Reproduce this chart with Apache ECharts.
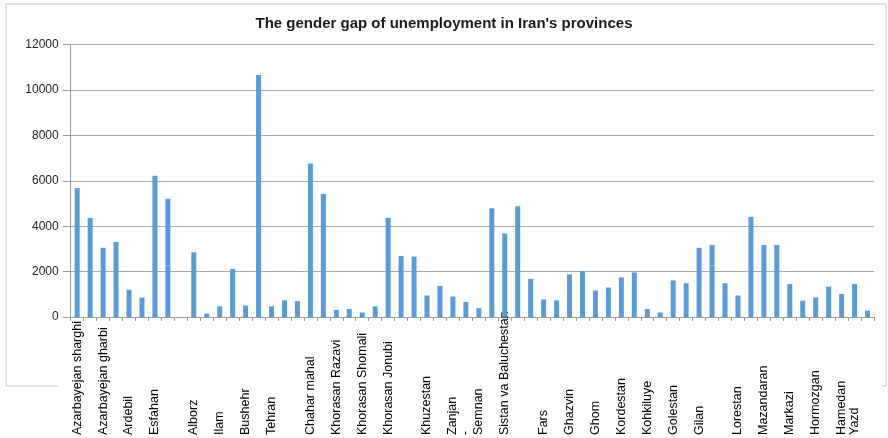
<!DOCTYPE html>
<html>
<head>
<meta charset="utf-8">
<title>The gender gap of unemployment in Iran's provinces</title>
<script src="https://cdn.jsdelivr.net/npm/echarts@6/dist/echarts.min.js"></script>
<style>
  html, body { margin: 0; padding: 0; background: #fff; }
  #chart { width: 888px; height: 438px; }
</style>
</head>
<body>
<div id="chart"></div>
<script>
// category labels (two bars per province, only some are named)
const labels = [
  'Azarbayejan sharghi', '', 'Azarbayejan gharbi', '', 'Ardebil', '', 'Esfahan', '', '', 'Alborz',
  '', 'Ilam', '', 'Bushehr', '', 'Tehran', '', '', 'Chahar mahal', '',
  'Khorasan Razavi', '', 'Khorasan Shomali', '', 'Khorasan Jonubi', '', '', 'Khuzestan', '', 'Zanjan',
  '-', 'Semnan', '', 'Sistan va Baluchestan', '', '', 'Fars', '', 'Ghazvin', '',
  'Ghom', '', 'Kordestan', '', 'Kohkiluye', '', 'Golestan', '', 'Gilan', '',
  '', 'Lorestan', '', 'Mazandaran', '', 'Markazi', '', 'Hormozgan', '', 'Hamedan',
  'Yazd', ''
];

// gender gap values
const gap = [
  5680, 4370, 3050, 3310, 1200, 860, 6230, 5210, 0, 2850,
  150, 470, 2120, 510, 10660, 470, 730, 700, 6770, 5420,
  310, 350, 200, 470, 4370, 2690, 2660, 950, 1370, 900,
  660, 390, 4790, 3680, 4880, 1680, 770, 730, 1880, 2020,
  1170, 1300, 1740, 1960, 350, 200, 1610, 1490, 3050, 3170,
  1490, 950, 4410, 3170, 3170, 1450, 720, 860, 1340, 1020,
  1450, 280
];

const yTicks = { min: 0, max: 12000, interval: 2000 };

const chart = echarts.init(document.getElementById('chart'), null, { renderer: 'canvas' });

const option = {
  animation: false,
  backgroundColor: '#fff',
  title: {
    text: "The gender gap of unemployment in Iran's provinces",
    left: 'center',
    top: 11,
    textStyle: {
      fontFamily: 'Liberation Sans',
      fontSize: 15,
      fontWeight: 'bold',
      color: '#1a1a1a'
    }
  },
  // frame of the chart area, its bottom edge is hidden behind the labels
  graphic: [{
    type: 'polyline',
    silent: true,
    z: -1,
    shape: { points: [[58, 386], [6, 386], [6, 4], [886, 4], [886, 386], [882, 386]] },
    style: { stroke: '#c8c8c8', lineWidth: 1, fill: null }
  }],
  grid: { left: 70.7, right: 14, top: 44.7, bottom: 119, containLabel: false },
  xAxis: {
    type: 'category',
    data: labels,
    boundaryGap: true,
    axisLine: { lineStyle: { color: '#9a9a9a', width: 1 } },
    axisTick: { show: true, interval: 0, length: 4, lineStyle: { color: '#9a9a9a' } },
    axisLabel: {
      interval: 0,
      rotate: 90,
      align: 'left',
      margin: 118,
      fontFamily: 'Liberation Sans',
      fontSize: 12.5,
      color: '#000',
      hideOverlap: false
    }
  },
  yAxis: {
    type: 'value',
    min: yTicks.min,
    max: yTicks.max,
    interval: yTicks.interval,
    axisLine: { show: true, lineStyle: { color: '#9a9a9a', width: 1 } },
    axisTick: { show: true, length: 8, lineStyle: { color: '#9a9a9a' } },
    axisLabel: {
      margin: 12,
      fontFamily: 'Liberation Sans',
      fontSize: 12,
      color: '#222',
      formatter: (v) => String(v)
    },
    splitLine: { lineStyle: { color: '#a6a6a6', width: 1 } }
  },
  series: [{
    type: 'bar',
    data: gap,
    barWidth: 5,
    itemStyle: { color: '#5b9bd5' }
  }]
};

chart.setOption(option);
window.addEventListener('resize', () => chart.resize());
</script>
</body>
</html>
